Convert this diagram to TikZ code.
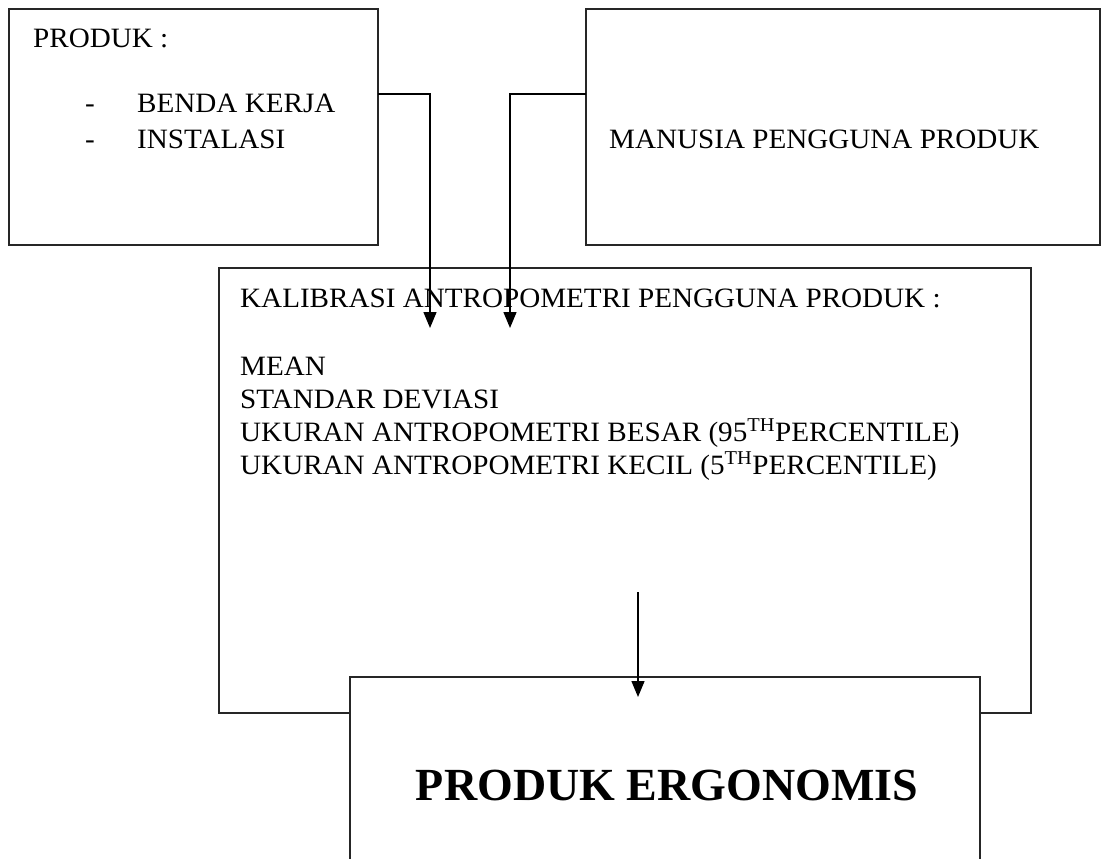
\documentclass[tikz,border=0pt]{standalone}
\usepackage{fontspec}
\setmainfont[FakeStretch=1.04]{Liberation Serif}
\newfontfamily\plainserif{Liberation Serif}
\usetikzlibrary{arrows.meta}
\begin{document}
\begin{tikzpicture}[x=1pt,y=-1pt,
  box/.style={draw=black!85,line width=1.4pt,fill=white,inner sep=0pt,outer sep=0pt},
  txt/.style={anchor=base west,inner sep=0pt,font=\fontsize{28}{34}\selectfont},
  conn/.style={draw=black,line width=1.4pt,-{Triangle[length=16pt,width=13pt]}}]
\useasboundingbox (0,0) rectangle (1101,859);
% boxes
\node[box,minimum width=369pt,minimum height=236pt] (b1) at (193.5,127) {};
\node[box,minimum width=514pt,minimum height=236pt] (b2) at (843,127) {};
\node[box,minimum width=812pt,minimum height=445pt] (b3) at (625,490.5) {};
\node[box,minimum width=630pt,minimum height=193pt] (b4) at (665,773.5) {};
% texts
\node[txt] (t1) at (33,48) {PRODUK :};
\node[txt] (t2a) at (85,113) {-};
\node[txt] (t2) at (137,113) {BENDA KERJA};
\node[txt] (t3a) at (85,148) {-};
\node[txt] (t3) at (137,148) {INSTALASI};
\node[txt] (t4) at (609,148) {MANUSIA PENGGUNA PRODUK};
\node[txt] (t5) at (240,307) {KALIBRASI ANTROPOMETRI PENGGUNA PRODUK :};
\node[txt] (t6) at (240,375) {MEAN};
\node[txt] (t7) at (240,408) {STANDAR DEVIASI};
\node[txt] (t8) at (240,441) {UKURAN ANTROPOMETRI BESAR (95\textsuperscript{TH}PERCENTILE)};
\node[txt] (t9) at (240,474) {UKURAN ANTROPOMETRI KECIL (5\textsuperscript{TH}PERCENTILE)};
\node[anchor=base,inner sep=0pt,font=\plainserif\fontsize{46}{50}\selectfont\bfseries] (t10) at (667,800) {PRODUK ERGONOMIS};
% connector points
\coordinate (c1) at (378,94);
\coordinate (c1e) at (430,328);
\coordinate (c2) at (586,94);
\coordinate (c2e) at (510,328);
\coordinate (c3) at (638,592);
\coordinate (c3e) at (638,697);
\draw[conn] (c1) -| (c1e);
\draw[conn] (c2) -| (c2e);
\draw[conn] (c3) -- (c3e);
\end{tikzpicture}
\end{document}
